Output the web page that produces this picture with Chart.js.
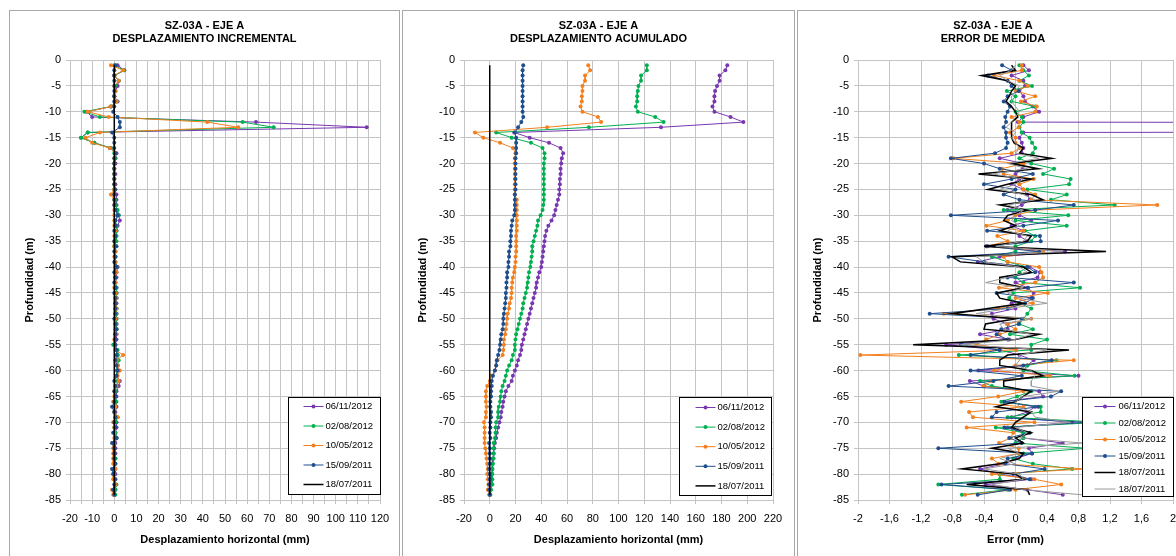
<!DOCTYPE html>
<html>
<head>
<meta charset="utf-8">
<script src="https://cdn.jsdelivr.net/npm/chart.js@4.4.1/dist/chart.umd.min.js"></script>
<style>
  html, body { margin: 0; padding: 0; background: #fff; width: 1176px; height: 556px; overflow: hidden; }
  .panel { position: absolute; top: 10px; height: 550px; border: 1px solid #a8a8a8; background: #fff; }
  .panel canvas { display: block; }
</style>
</head>
<body>
<div class="panel" style="left:9px;width:389px"><canvas id="c1" width="389" height="550"></canvas></div>
<div class="panel" style="left:402px;width:391px"><canvas id="c2" width="391" height="550"></canvas></div>
<div class="panel" style="left:797px;width:390px"><canvas id="c3" width="390" height="550"></canvas></div>
<script>
// Inclinometer SZ-03A, axis A: readings every metre of depth
const DEPTH = [
  -1, -2, -3, -4, -5, -6, -7, -8, -9, -10,
  -11, -12, -13, -14, -15, -16, -17, -18, -19, -20,
  -21, -22, -23, -24, -25, -26, -27, -28, -29, -30,
  -31, -32, -33, -34, -35, -36, -37, -38, -39, -40,
  -41, -42, -43, -44, -45, -46, -47, -48, -49, -50,
  -51, -52, -53, -54, -55, -56, -57, -58, -59, -60,
  -61, -62, -63, -64, -65, -66, -67, -68, -69, -70,
  -71, -72, -73, -74, -75, -76, -77, -78, -79, -80,
  -81, -82, -83, -84
];

const LABELS = ['06/11/2012', '02/08/2012', '10/05/2012', '15/09/2011', '18/07/2011'];

// Incremental displacement (mm)
const INC_0611 = [
  1.5, 4.5, 0, 2, 1.5, 0.5, 0, 1.5, -1.5, -12.5,
  -10, 64, 114, -12, -15, -9, -2, 1, 0.5, 0.5,
  0, 0.5, 0, 0.5, 0, 1, 1, 1, 1, 2,
  2.5, 1.5, 1, 0.5, 0.5, 0.5, 0.5, 0.5, 0.5, 1.5,
  1, 1, 0.5, 1, 1, 1, 1, 1, 1, 1,
  1, 1, 1, 1, 0.5, 1, 1.5, 1, 1.5, 1.5,
  1, 2.5, 2, 1, 1, 0.5, 1, 0.5, 1, 1,
  1, 0.5, 1, 0.5, 0.5, 0.5, 0.5, 0, 0.5, 0.5,
  0, 0.5, 0.5, 0
];
const INC_0208 = [
  0, 4.5, 0, 2, 0.5, 0.5, 0, 1, -1.5, -13.5,
  -6.5, 58, 72, -12, -15, -9, -1.5, 0, 0.5, 0,
  0, 0, 0, 0, 0, 0, 0.5, 0.5, 1.5, 2,
  0.5, 1, 1, 1, 1, 0, 0.5, 0.5, 0.5, 1,
  0.5, 0.5, 0.5, 1, 1, 1, 0.5, 1, 1, 1,
  1, 1, 0.5, 0.5, -0.5, 1.5, 1.5, 2, 1.5, 1,
  1, 1.5, 1, 0.5, 0.5, 1, 0.5, 0, 1.5, 0.5,
  0, 0.5, 1, 0, 0, 0, 0.5, 0.5, 0, 0,
  0, 1, 0.5, 0.5
];
const INC_1005 = [
  -1.5, 4, 0, 2, 0, 0.5, 0, 1, -1.5, -12,
  -2.5, 42, 56, -6.5, -13, -10, -2, 0.5, 0, 0,
  0, 0, 0, 0, 0, -1.5, 0, 0, 0, 0,
  0, 0, 0.5, 0, 0, 0, 0.5, 0, 0.5, 0.5,
  1, 0.5, 0.5, 0, 0.5, 1, 0.5, 1, 0.5, 0.5,
  0.5, 0.5, 1, 0, 0.5, 0.5, 4, 1, 1.5, 2.5,
  1.5, 2, 1, 0, 0, -0.5, 0.5, 0, 1.5, -0.5,
  0, 0, 0, -0.5, -0.5, -0.5, -0.5, -0.5, 0.5, -0.5,
  -0.5, 0.5, -1, -0.5
];
const INC_1509 = [
  0.5, 0, 0, 0, 0, 0, 0, 0, 0, -0.5,
  1.5, 2.5, 2.5, -1, 0, 0, 0, 0.5, 0, 0,
  0, 0, 0, 0, 0.5, 0, 0, 0, 0.5, 1.5,
  0.5, 0.5, 0, 0.5, 0, 1, 0, 0.5, 0, 1,
  0, 0.5, 0, 0.5, 0, 0.5, 0.5, 0.5, 0.5, 0,
  0.5, 1, 0.5, 0.5, 0.5, 1, 1, 0.5, 1, 1.5,
  1, 0, 0.5, 0, 0.5, 0, -1, 0, 0.5, 0,
  0.5, -0.5, 1, -1, 0, 0, 0, 0.5, -1, -0.5,
  0.5, 0, -0.5, 0
];
const INC_1807 = [
  0, 0, 0, 0, 0, 0, 0, 0, 0, 0,
  0, 0, 0, 0, 0, 0, 0, 0, 0, 0,
  0, 0, 0, 0, 0, 0, 0, 0, 0, 0,
  0, 0, 0, 0, 0, 0, 0, 0, 0, 0,
  0, 0, 0, 0, 0, 0, 0, 0, 0, 0,
  0, 0, 0, 0, 0, 0, 0, 0, 0, 0,
  0, 0, 0, 0, 0, 0, 0, 0, 0, 0,
  0, 0, 0, 0, 0, 0, 0, 0, 0, 0,
  0, 0, 0, 0
];

// Cumulative displacement (mm)
const ACU_0611 = [
  184.5, 183, 178.5, 178.5, 176.5, 175, 174.5, 174.5, 173, 174.5,
  187, 197, 133, 19, 31, 46, 55, 57, 56, 55.5,
  55, 55, 54.5, 54.5, 54, 54, 53, 52, 51, 50,
  48, 45.5, 44, 43, 42.5, 42, 41.5, 41, 40.5, 40,
  38.5, 37.5, 36.5, 36, 35, 34, 33, 32, 31, 30,
  29, 28, 27, 26, 25, 24.5, 23.5, 22, 21, 19.5,
  18, 17, 14.5, 12.5, 11.5, 10.5, 10, 9, 8.5, 7.5,
  6.5, 5.5, 5, 4, 3.5, 3, 2.5, 2, 2, 1.5,
  1, 1, 0.5, 0
];
const ACU_0208 = [
  122, 122, 117.5, 117.5, 115.5, 115, 114.5, 114.5, 113.5, 115,
  128.5, 135, 77, 5, 17, 32, 41, 42.5, 42.5, 42,
  42, 42, 42, 42, 42, 42, 42, 41.5, 41, 39.5,
  37.5, 37, 36, 35, 34, 33, 33, 32.5, 32, 31.5,
  30.5, 30, 29.5, 29, 28, 27, 26, 25.5, 24.5, 23.5,
  22.5, 21.5, 20.5, 20, 19.5, 19.5, 18, 17, 15, 13.5,
  12.5, 11.5, 10, 9, 8.5, 8, 7, 6.5, 6.5, 5,
  4.5, 4.5, 4, 3, 3, 3, 3, 2.5, 2, 2,
  2, 2, 1, 0.5
];
const ACU_1005 = [
  76.5, 78, 74, 74, 72, 72, 71.5, 71.5, 70.5, 72,
  84, 86.5, 44.5, -11.5, -5, 8, 18, 20, 19.5, 19.5,
  19.5, 19.5, 19.5, 19.5, 19.5, 19.5, 21, 21, 21, 21,
  21, 21, 21, 20.5, 20.5, 20.5, 20.5, 20, 20, 19.5,
  19, 18, 17.5, 17, 17, 16.5, 15.5, 15, 14, 13.5,
  13, 12.5, 12, 11, 11, 10.5, 10, 6, 5, 4,
  1.5, 0, -2, -3, -3, -3, -2.5, -3, -3, -4.5,
  -4, -4, -4, -4, -3.5, -3, -2.5, -2, -1.5, -2,
  -1.5, -1, -1.5, -0.5
];
const ACU_1509 = [
  26, 25.5, 25.5, 25.5, 25.5, 25.5, 25.5, 25.5, 25.5, 25.5,
  26, 24.5, 22, 19.5, 20.5, 20.5, 20.5, 20.5, 20, 20,
  20, 20, 20, 20, 20, 19.5, 19.5, 19.5, 19.5, 19,
  17.5, 17, 16.5, 16.5, 16, 16, 15, 15, 14.5, 14.5,
  13.5, 13.5, 13, 13, 12.5, 12.5, 12, 11.5, 11, 10.5,
  10.5, 10, 9, 8.5, 8, 7.5, 6.5, 5.5, 5, 4,
  2.5, 1.5, 1.5, 1, 1, 0.5, 0.5, 1, 1, 0.5,
  0.5, 0, 0.5, -0.5, 0, 0, 0, 0, -0.5, 0,
  0, -0.5, -0.5, 0
];
const ACU_1807 = [
  0, 0, 0, 0, 0, 0, 0, 0, 0, 0,
  0, 0, 0, 0, 0, 0, 0, 0, 0, 0,
  0, 0, 0, 0, 0, 0, 0, 0, 0, 0,
  0, 0, 0, 0, 0, 0, 0, 0, 0, 0,
  0, 0, 0, 0, 0, 0, 0, 0, 0, 0,
  0, 0, 0, 0, 0, 0, 0, 0, 0, 0,
  0, 0, 0, 0, 0, 0, 0, 0, 0, 0,
  0, 0, 0, 0, 0, 0, 0, 0, 0, 0,
  0, 0, 0, 0
];

// Measurement error (mm)
const ERR_0611 = [
  0.1, 0.17, -0.05, 0.1, 0.12, 0.05, 0.1, 0.12, 0.22, 0.3,
  0.1, 0.03, 60, 0.1, 0.05, 0.08, 0.1, 0.08, -0.2, 0.1,
  0.09, 0, 0.05, -0.05, 0.1, 0.15, 0.18, 0.08, -0.1, 0.05,
  0.2, -0.05, 0.1, 0.05, 0.15, -0.35, 0.63, -0.2, -0.48, 0.18,
  0.31, 0.28, 0, 0.15, 0.23, 0.2, -0.05, 0, -0.3, -0.28,
  -0.1, -0.1, -0.45, -0.08, -0.88, -0.2, 0.05, 0.23, 0.15, -0.47,
  0.8, -0.58, -0.4, 0.3, 0.35, -0.15, 0.25, 0.15, -0.05, 0.72,
  -0.1, 0.1, 0.1, 0.6, 0.17, 0.21, 0, -0.13, -0.45, -0.2,
  0.2, -0.38, 0.15, 0.6
];
const ERR_0208 = [
  0.05, 0.1, 0.17, 0.05, 0.21, -0.11, 0, -0.05, 0.25, 0,
  0.08, 0.1, 0.05, 0.08, 0.18, 0.21, 0.25, 0.22, 0.05, 0.2,
  0.49, 0.35, 0.7, 0.68, 0.15, 0.65, 0.45, 1.26, -0.15, 0.67,
  0, 0.65, 0.12, 0.25, 0.2, 0, 0, -0.3, -0.1, 0.15,
  0.05, 0, 0.1, 0.82, -0.03, -0.08, 0.05, 0.2, 0.15, 0.1,
  0.05, 0.22, -0.07, 0.4, 0.2, 0.2, -0.72, 0.52, 0.15, 0.1,
  0.75, -0.45, -0.3, 0.2, 0.02, -0.18, 0.32, 0.32, -0.1, 1.1,
  -0.25, 0.1, 0.1, 0, 0.9, 0.1, -0.03, 0.22, 0.72, -0.2,
  -0.2, -0.98, -0.1, -0.68
];
const ERR_1005 = [
  0.08, 0.08, -0.27, 0.05, 0.16, 0, 0.25, 0.07, 0.27, 0.25,
  -0.05, 0.05, 0.04, -0.07, 0, 0, 0.05, -0.05, -0.79, 0.1,
  -0.17, -0.15, 0.23, 0.05, 0.1, 0.25, 0.2, 1.8, 0.25, 0,
  -0.1, -0.37, 0.1, -0.23, -0.1, -0.37, 0.35, -0.15, -0.1, 0.3,
  0.33, 0.35, 0.25, -0.21, 0.41, 0, 0.22, -0.22, -0.91, 0.2,
  -0.11, 0, -0.2, -0.37, -0.5, 0.01, -1.97, 0.74, 0, -0.27,
  0.44, -0.3, -0.41, 0.1, -0.22, -0.69, 0.1, -0.59, -0.54, 0.24,
  -0.62, -0.03, -0.06, -0.21, 0.04, 0.04, -0.3, -0.21, 0.9, -0.3,
  0.24, 0.58, 0, -0.64
];
const ERR_1509 = [
  -0.17, -0.05, -0.35, -0.1, -0.05, 0.04, -0.1, -0.15, -0.07, -0.1,
  -0.13, -0.12, -0.15, -0.12, -0.12, -0.1, -0.12, -0.26, -0.82, -0.4,
  -0.2, 0.22, -0.05, -0.4, 0, -0.15, 0.05, 0.74, 0.25, -0.82,
  0.54, 0.1, -0.36, 0.31, 0.32, -0.37, 0.3, -0.85, -0.4, 0.15,
  0.25, -0.1, 0.74, 0.16, -0.24, 0.22, 0.12, -0.1, -1.09, 0.08,
  0.04, -0.18, -0.24, -0.1, -0.69, -0.2, -0.57, 0.46, 0.1, -0.57,
  0.08, -0.28, -0.85, 0.58, 0.45, -0.14, 0.29, -0.24, -0.3, 0.9,
  -0.14, 0.18, -0.08, 0.08, -0.98, 0.21, -0.1, -0.13, 0.37, -0.03,
  0.18, -0.94, -0.07, -0.48
];
const ERR_1807A = [
  -0.05, 0, -0.43, -0.1, 0, -0.05, -0.08, -0.12, -0.05, 0,
  0.03, -0.05, -0.05, -0.05, -0.05, -0.02, 0.1, 0.05, 0.46, -0.05,
  0.29, -0.47, 0.2, -0.1, -0.35, 0.2, 0.35, -0.2, 0.15, -0.1,
  -0.15, 0, -0.2, 0.2, 0.15, -0.4, 1.15, -0.81, -0.7, 0.1,
  0.2, -0.2, -0.2, 0.1, -0.24, -0.2, 0.1, -0.35, -0.8, 0,
  -0.38, -0.4, 0.3, 0, -1.3, 0.68, -0.1, -0.2, -0.2, 0.2,
  0.35, -0.15, -0.15, 0.2, 0.1, 0, -0.25, 0.2, 0.1, 0,
  -0.05, 0.2, 0, 0.1, -0.3, 0.1, 0.05, -0.2, -0.68, 0,
  0.1, -0.62, 0.15, 0.18
];
const ERR_1807B = [
  0, -0.05, -0.2, -0.1, 0.05, 0, -0.05, -0.05, 0, 0.05,
  0, -0.05, -0.12, 0, -0.05, 0, 0.05, 0, 0.3, -0.1,
  0.15, -0.3, 0.1, 0, -0.2, 0.1, 0.25, -0.1, 0.1, 0,
  -0.05, 0.05, -0.1, 0.15, 0.1, -0.25, 0.6, -0.5, -0.4, 0.05,
  0.15, -0.1, -0.38, 0.1, -0.1, 0.05, 0.4, -0.1, -0.5, 0.22,
  -0.2, -0.15, 0.2, 0, -0.7, 0.4, 0.05, 0.05, 0, 0.2,
  0.25, 0.2, 0.2, 0.55, 0.1, 0, 0.05, 0.2, 0.25, 0.7,
  0, 0.15, 0.05, 0.85, -0.1, 0.05, -0.2, 0, -0.4, 0.05,
  0.1, -0.3, 0.1, 0.85
];

const FONT = '"Liberation Sans", Arial, sans-serif';
const GRID = '#c4c4c4';
const C_PURPLE = '#7838B0';
const C_GREEN = '#00B050';
const C_ORANGE = '#F3801E';
const C_BLUE = '#1F4E8C';
const C_BLACK = '#000000';
const C_GRAY = '#9a9a9a';

// Boxed legend drawn inside the plot area, in dataset order
const boxLegend = {
  id: 'boxLegend',
  afterDatasetsDraw(chart, args, o) {
    const ctx = chart.ctx;
    const a = chart.chartArea;
    const x = Math.round(a.left + o.x) + 0.5;
    const y = Math.round(a.top + o.y) + 0.5;
    ctx.save();
    ctx.fillStyle = '#fff';
    ctx.fillRect(x, y, o.w, o.h);
    ctx.strokeStyle = '#000';
    ctx.lineWidth = 1;
    ctx.strokeRect(x, y, o.w, o.h);
    chart.data.datasets.forEach((ds, i) => {
      const ry = y + o.first + i * o.step;
      ctx.strokeStyle = ds.borderColor;
      ctx.lineWidth = ds.borderWidth;
      ctx.beginPath();
      ctx.moveTo(x + o.l0, ry);
      ctx.lineTo(x + o.l1, ry);
      ctx.stroke();
      if (ds.pointRadius > 0) {
        ctx.fillStyle = ds.borderColor;
        ctx.beginPath();
        ctx.arc(x + (o.l0 + o.l1) / 2, ry, ds.pointRadius, 0, Math.PI * 2);
        ctx.fill();
      }
      ctx.fillStyle = '#000';
      ctx.font = '9.5px ' + FONT;
      ctx.textBaseline = 'middle';
      ctx.textAlign = 'left';
      ctx.fillText(ds.label, x + o.tx, ry);
    });
    ctx.restore();
  }
};

function series(label, vals, color, order, extra) {
  return Object.assign({
    label: label,
    data: vals.map((v, i) => ({ x: v, y: DEPTH[i] })),
    showLine: true,
    borderColor: color,
    backgroundColor: color,
    borderWidth: 1,
    pointRadius: 2,
    pointBorderWidth: 0,
    pointStyle: 'circle',
    tension: 0,
    order: order
  }, extra || {});
}

function panel(id, p) {
  return new Chart(document.getElementById(id), {
    type: 'scatter',
    data: { datasets: p.datasets },
    plugins: [boxLegend],
    options: {
      responsive: false,
      animation: false,
      events: [],
      layout: { padding: { left: p.pad, right: p.pad, top: 0, bottom: 11 } },
      plugins: {
        legend: { display: false },
        tooltip: { enabled: false },
        title: {
          display: true,
          text: ['SZ-03A - EJE A', p.subtitle],
          color: '#000',
          font: { family: FONT, size: 11, weight: 'bold', lineHeight: '13.5px' },
          padding: { top: 7.75, bottom: 14.25 }
        },
        boxLegend: p.legend
      },
      scales: {
        x: {
          type: 'linear',
          position: 'bottom',
          min: p.xMin,
          max: p.xMax,
          afterFit: s => { s.height = 50; },
          ticks: {
            stepSize: p.xStep,
            autoSkip: false,
            maxRotation: 0,
            padding: 8.4,
            color: '#000',
            font: { family: FONT, size: 11 },
            callback: p.xLabel
          },
          grid: { color: GRID, lineWidth: 1, tickLength: 4 },
          border: { color: GRID, width: 1 },
          title: {
            display: true,
            text: p.xTitle,
            color: '#000',
            font: { family: FONT, size: 11, weight: 'bold' },
            padding: { top: 0, bottom: 3.4 }
          }
        },
        y: {
          type: 'linear',
          min: -85,
          max: 0,
          afterFit: s => { s.width = p.yWidth; },
          ticks: {
            stepSize: 5,
            padding: 5,
            color: '#000',
            font: { family: FONT, size: 11 },
            callback: v => String(v)
          },
          grid: { color: GRID, lineWidth: 1, tickLength: 4 },
          border: { color: GRID, width: 1 },
          title: {
            display: true,
            text: 'Profundidad (m)',
            color: '#000',
            font: { family: FONT, size: 11, weight: 'bold' },
            padding: { top: p.yTitlePad, bottom: 0 }
          }
        }
      }
    }
  });
}

const commaLabel = v => {
  const r = Math.round(v * 10) / 10;
  return String(r).replace('.', ',');
};

panel('c1', {
  subtitle: 'DESPLAZAMIENTO INCREMENTAL',
  xTitle: 'Desplazamiento horizontal (mm)',
  pad: 19, yWidth: 41, yTitlePad: -6.1,
  xMin: -20, xMax: 120, xStep: 5,
  xLabel: v => (Math.round(v) % 10 === 0 ? String(Math.round(v)) : ''),
  legend: { x: 218, y: 337, w: 92, h: 97, first: 9, step: 19.5, l0: 15, l1: 35, tx: 37 },
  datasets: [
    series(LABELS[0], INC_0611, C_PURPLE, 4),
    series(LABELS[1], INC_0208, C_GREEN, 3),
    series(LABELS[2], INC_1005, C_ORANGE, 2),
    series(LABELS[3], INC_1509, C_BLUE, 1),
    series(LABELS[4], INC_1807, C_BLACK, 0, { pointRadius: 0, borderWidth: 1.5 })
  ]
});

panel('c2', {
  subtitle: 'DESPLAZAMIENTO ACUMULADO',
  xTitle: 'Desplazamiento horizontal (mm)',
  pad: 21, yWidth: 40, yTitlePad: -7.6,
  xMin: -20, xMax: 220, xStep: 20,
  xLabel: v => String(Math.round(v)),
  legend: { x: 215, y: 337, w: 92, h: 98, first: 10, step: 19.6, l0: 16, l1: 36, tx: 38 },
  datasets: [
    series(LABELS[0], ACU_0611, C_PURPLE, 4),
    series(LABELS[1], ACU_0208, C_GREEN, 3),
    series(LABELS[2], ACU_1005, C_ORANGE, 2),
    series(LABELS[3], ACU_1509, C_BLUE, 1),
    series(LABELS[4], ACU_1807, C_BLACK, 0, { pointRadius: 0, borderWidth: 1.5 })
  ]
});

panel('c3', {
  subtitle: 'ERROR DE MEDIDA',
  xTitle: 'Error (mm)',
  pad: 15, yWidth: 45, yTitlePad: -2.1,
  xMin: -2, xMax: 2, xStep: 0.4,
  xLabel: commaLabel,
  legend: { x: 224, y: 337, w: 91, h: 99, first: 9, step: 16.5, l0: 12, l1: 33, tx: 36 },
  datasets: [
    series(LABELS[0], ERR_0611, C_PURPLE, 5),
    series(LABELS[1], ERR_0208, C_GREEN, 4),
    series(LABELS[2], ERR_1005, C_ORANGE, 3),
    series(LABELS[3], ERR_1509, C_BLUE, 2),
    series(LABELS[4], ERR_1807A, C_BLACK, 1, { pointRadius: 0, borderWidth: 1.5 }),
    series(LABELS[4], ERR_1807B, C_GRAY, 0, { pointRadius: 0, borderWidth: 1 })
  ]
});
</script>
</body>
</html>
